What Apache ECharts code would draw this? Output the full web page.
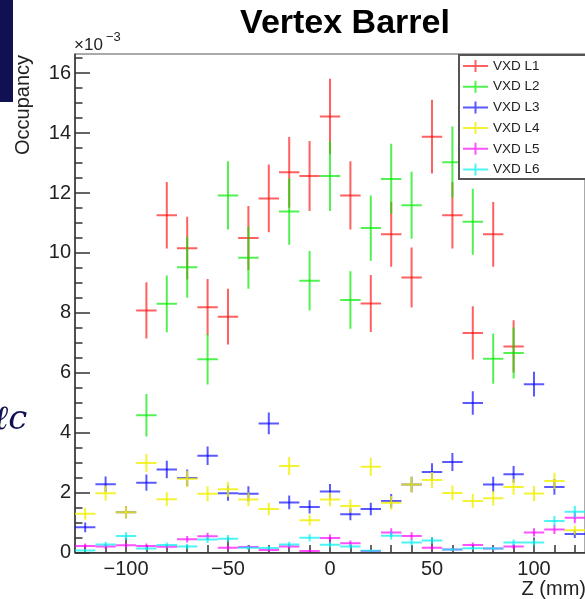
<!DOCTYPE html>
<html>
<head>
<meta charset="utf-8">
<script src="https://cdn.jsdelivr.net/npm/echarts@6.0.0/dist/echarts.min.js"></script>
<style>
  html, body { margin: 0; padding: 0; background: #fff; }
  #chart { width: 585px; height: 599px; }
</style>
</head>
<body>
<div id="chart"></div>
<script>
// occupancy per 10 mm bin, in units of 1e-3
var zBins = [-120, -110, -100, -90, -80, -70, -60, -50, -40, -30, -20, -10, 0, 10, 20, 30, 40, 50, 60, 70, 80, 90, 100, 110, 120];
var layerNames = ['VXD L1', 'VXD L2', 'VXD L3', 'VXD L4', 'VXD L5', 'VXD L6'];
var layerColors = ['rgba(255,0,0,0.62)', 'rgba(0,235,0,0.68)', 'rgba(0,0,255,0.65)', 'rgba(240,240,0,0.8)', 'rgba(255,0,255,0.68)', 'rgba(0,240,240,0.7)'];

var l1Occ = [null, null, null, 8.08, 11.26, 10.16, 8.19, 7.87, 10.5, 11.82, 12.69, 12.57, 14.55, 11.92, 8.31, 10.62, 9.18, 13.88, 11.26, 7.33, 10.62, 6.88, null, null, null];
var l1Err = [null, null, null, 0.94, 1.11, 1.05, 0.94, 0.93, 1.07, 1.13, 1.18, 1.17, 1.26, 1.14, 0.95, 1.08, 1.0, 1.23, 1.11, 0.89, 1.08, 0.87, null, null, null];
var l2Occ = [null, null, null, 4.58, 8.3, 9.52, 6.45, 11.92, 9.84, null, 11.38, 9.07, 12.57, 8.43, 10.83, 12.47, 11.59, null, 13.03, 11.04, 6.47, 6.66, null, null, null];
var l2Err = [null, null, null, 0.71, 0.95, 1.02, 0.84, 1.14, 1.04, null, 1.11, 0.99, 1.17, 0.96, 1.09, 1.17, 1.12, null, 1.19, 1.1, 0.84, 0.85, null, null, null];
var l3Occ = [0.84, 2.28, 1.34, 2.33, 2.77, 2.49, 3.23, 1.98, 1.96, 4.31, 1.67, 1.52, 2.04, 1.28, 1.45, 1.72, 2.27, 2.69, 3.02, 4.99, 2.27, 2.61, 5.62, 2.19, 0.62];
var l3Err = [0.16, 0.26, 0.2, 0.27, 0.29, 0.28, 0.31, 0.25, 0.25, 0.36, 0.23, 0.22, 0.25, 0.2, 0.21, 0.23, 0.26, 0.29, 0.3, 0.39, 0.26, 0.28, 0.41, 0.26, 0.14];
var l4Occ = [1.29, 1.98, 1.34, 2.99, 1.78, 2.46, 1.96, 2.11, 1.77, 1.45, 2.89, 1.08, 1.77, 1.55, 2.86, 1.66, 2.27, 2.42, 1.99, 1.72, 1.81, 2.19, 1.97, 2.39, 0.74];
var l4Err = [0.2, 0.25, 0.2, 0.3, 0.23, 0.27, 0.25, 0.25, 0.23, 0.21, 0.3, 0.18, 0.23, 0.22, 0.3, 0.23, 0.26, 0.27, 0.25, 0.23, 0.24, 0.26, 0.25, 0.27, 0.15];
var l5Occ = [0.22, 0.2, 0.24, 0.22, 0.19, 0.44, 0.54, 0.16, 0.18, 0.08, 0.2, 0.05, 0.48, 0.31, 0.05, 0.67, 0.55, 0.16, 0.1, 0.25, 0.13, 0.2, 0.67, 0.77, 1.16];
var l5Err = [0.08, 0.08, 0.08, 0.08, 0.07, 0.11, 0.12, 0.07, 0.07, 0.05, 0.08, 0.04, 0.12, 0.09, 0.04, 0.14, 0.13, 0.07, 0.05, 0.08, 0.06, 0.08, 0.14, 0.15, 0.18];
var l6Occ = [0.07, 0.27, 0.55, 0.13, 0.25, 0.2, 0.43, 0.46, 0.16, 0.15, 0.27, 0.49, 0.26, 0.2, 0.06, 0.56, 0.33, 0.4, 0.1, 0.14, 0.13, 0.33, 0.33, 1.05, 1.36];
var l6Err = [0.04, 0.09, 0.13, 0.06, 0.08, 0.08, 0.11, 0.12, 0.07, 0.07, 0.09, 0.12, 0.09, 0.08, 0.04, 0.13, 0.1, 0.11, 0.05, 0.06, 0.06, 0.1, 0.1, 0.17, 0.2];

var yMajorTicks = [0, 2, 4, 6, 8, 10, 12, 14, 16];
var yMinorTicks = [];
for (var t = 0; t <= 16.5; t += 0.5) yMinorTicks.push(t);
var xMajorTicks = [-100, -50, 0, 50, 100];
var xMinorTicks = zBins;
var binHalfWidth = 5;

var axisColor = '#333';
var fontFam = '"Liberation Sans", Arial, Helvetica, sans-serif';

function toPoints(vals, errs) {
  var out = [];
  for (var i = 0; i < zBins.length; i++) {
    if (vals[i] != null) out.push([zBins[i], vals[i], errs[i]]);
  }
  return out;
}

function renderCross(params, api) {
  var x = api.value(0), y = api.value(1), e = api.value(2);
  var c = api.coord([x, y]);
  var l = api.coord([x - binHalfWidth, y]);
  var r = api.coord([x + binHalfWidth, y]);
  var top = api.coord([x, y + e]);
  var bot = api.coord([x, y - e]);
  var style = { stroke: api.visual('color'), lineWidth: 2, fill: null };
  return {
    type: 'group',
    children: [
      { type: 'line', shape: { x1: l[0], y1: c[1], x2: r[0], y2: c[1] }, style: style },
      { type: 'line', shape: { x1: c[0], y1: top[1], x2: c[0], y2: bot[1] }, style: style }
    ]
  };
}

var allOcc = [l1Occ, l2Occ, l3Occ, l4Occ, l5Occ, l6Occ];
var allErr = [l1Err, l2Err, l3Err, l4Err, l5Err, l6Err];

var crossIcon = 'path://M0,5h25v2h-25z M11.5,0h2v12h-2z';

var option = {
  animation: false,
  backgroundColor: '#fff',
  textStyle: { fontFamily: fontFam },
  grid: {
    left: 75, right: 0, top: 54, bottom: 46.5,
    show: true, borderColor: '#555', borderWidth: 1, backgroundColor: 'transparent'
  },
  legend: {
    orient: 'vertical',
    left: 463, top: 59, padding: 0,
    itemWidth: 25, itemHeight: 12, itemGap: 6.7,
    selectedMode: false,
    textStyle: { fontSize: 13.5, color: '#222', lineHeight: 14, fontFamily: fontFam },
    data: layerNames.map(function (n) { return { name: n, icon: crossIcon }; })
  },
  xAxis: [{
    type: 'value', min: -125, max: 125, position: 'bottom',
    axisLine: { show: true, onZero: false, lineStyle: { color: axisColor, width: 1.5 } },
    axisTick: { show: true, inside: true, length: 15, customValues: xMajorTicks, lineStyle: { color: axisColor, width: 1.5 } },
    axisLabel: {
      customValues: xMajorTicks, fontSize: 20, color: '#222', margin: 7,
      formatter: function (v) { return v < 0 ? '\u2212' + (-v) : String(v); }
    },
    splitLine: { show: false }
  }, {
    type: 'value', min: -125, max: 125, position: 'bottom',
    axisLine: { show: false, onZero: false },
    axisTick: { show: true, inside: true, length: 7.5, customValues: xMinorTicks, lineStyle: { color: axisColor, width: 1.5 } },
    axisLabel: { show: false },
    splitLine: { show: false }
  }],
  yAxis: [{
    type: 'value', min: 0, max: 16.64, position: 'left',
    axisLine: { show: true, onZero: false, lineStyle: { color: axisColor, width: 1.5 } },
    axisTick: { show: true, inside: true, length: 15, customValues: yMajorTicks, lineStyle: { color: axisColor, width: 1.5 } },
    axisLabel: { customValues: yMajorTicks, fontSize: 20, color: '#222', margin: 4 },
    splitLine: { show: false }
  }, {
    type: 'value', min: 0, max: 16.64, position: 'left',
    axisLine: { show: false, onZero: false },
    axisTick: { show: true, inside: true, length: 7.5, customValues: yMinorTicks, lineStyle: { color: axisColor, width: 1.5 } },
    axisLabel: { show: false },
    splitLine: { show: false }
  }],
  series: layerNames.map(function (name, i) {
    return {
      name: name,
      type: 'custom',
      xAxisIndex: 0,
      yAxisIndex: 0,
      clip: true,
      itemStyle: { color: layerColors[i] },
      encode: { x: 0, y: 1 },
      renderItem: renderCross,
      data: toPoints(allOcc[i], allErr[i])
    };
  }),
  graphic: [
    { type: 'rect', left: 0, top: 0, shape: { width: 13, height: 102 }, style: { fill: '#0f1152' }, z: 1 },
    { type: 'text', x: -6, y: 420, style: { text: '\u2113c', font: 'italic 34px "DejaVu Serif", serif', fill: '#0f1152', verticalAlign: 'middle' }, z: 1 },
    { type: 'text', x: 345, y: 24, style: { text: 'Vertex Barrel', font: 'bold 34px ' + fontFam, fill: '#000', align: 'center', verticalAlign: 'middle' }, z: 1 },
    { type: 'text', x: 23, y: 55, rotation: Math.PI / 2, style: { text: 'Occupancy', font: '20px ' + fontFam, fill: '#222', align: 'right', verticalAlign: 'middle' }, z: 1 },
    { type: 'text', x: 74, y: 54, style: { text: '\u00d710', font: '17px ' + fontFam, fill: '#222', align: 'left', verticalAlign: 'bottom' }, z: 1 },
    { type: 'text', x: 106, y: 31, style: { text: '\u22123', font: '13px ' + fontFam, fill: '#222', align: 'left', verticalAlign: 'top' }, z: 1 },
    { type: 'text', x: 586, y: 579, style: { text: 'Z (mm)', font: '20px ' + fontFam, fill: '#222', align: 'right', verticalAlign: 'top' }, z: 1 },
    { type: 'rect', left: 458, top: 54, shape: { width: 140, height: 124 }, style: { fill: '#fff', stroke: '#555', lineWidth: 2 }, z: 3 }
  ]
};

var myChart = echarts.init(document.getElementById('chart'));
myChart.setOption(option);
</script>
</body>
</html>
